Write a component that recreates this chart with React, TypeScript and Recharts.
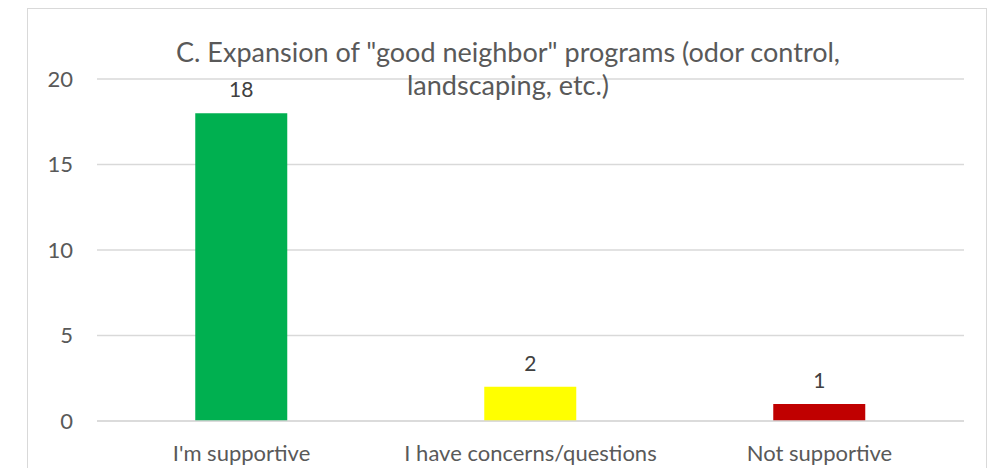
import { BarChart, Bar, XAxis, YAxis, CartesianGrid, LabelList, Cell } from "recharts"

const categories = ["I'm supportive", "I have concerns/questions", "Not supportive"]
const counts = [18, 2, 1]
const barColors = ["#00B050", "#FFFF00", "#C00000"]
const yTicks = [0, 5, 10, 15, 20]

const titleLines = ["C. Expansion of \"good neighbor\" programs (odor control,", "landscaping, etc.)"]

const data = categories.map((name, i) => ({ name, value: counts[i] }))

const FONT = "Lato, 'Open Sans', sans-serif"

export default function App() {
    return (
        <div style={{ position: "absolute", left: 0, top: 0, width: 1007, height: 468, overflow: "hidden", background: "#fff", fontFamily: FONT }}>
            <div
                style={{
                    position: "absolute",
                    left: 27,
                    top: 8,
                    width: 960,
                    height: 500,
                    border: "1.5px solid #d9d9d9",
                    boxSizing: "border-box",
                }}
            />
            <BarChart
                width={1007}
                height={468}
                data={data}
                margin={{ top: 79, right: 43, bottom: 17, left: 0 }}
                barCategoryGap="34%"
            >
                <CartesianGrid vertical={false} stroke="#d9d9d9" strokeWidth={1.3} />
                <XAxis
                    dataKey="name"
                    height={30}
                    axisLine={{ stroke: "#d9d9d9", strokeWidth: 1.3 }}
                    tickLine={false}
                    tickSize={0}
                    tickMargin={24}
                    tick={{ fill: "#595959", fontSize: 22, fontFamily: FONT }}
                    interval={0}
                />
                <YAxis
                    width={97}
                    domain={[0, 20]}
                    ticks={yTicks}
                    axisLine={false}
                    tickLine={false}
                    tickSize={0}
                    tickMargin={24}
                    tick={{ fill: "#595959", fontSize: 22, fontFamily: FONT }}
                />
                <Bar dataKey="value" isAnimationActive={false}>
                    {data.map((d, i) => (
                        <Cell key={d.name} fill={barColors[i]} />
                    ))}
                    <LabelList dataKey="value" position="top" offset={16} fill="#404040" fontSize={21} fontFamily={FONT} />
                </Bar>
            </BarChart>
            <div
                style={{
                    position: "absolute",
                    left: 27,
                    top: 35,
                    width: 962,
                    textAlign: "center",
                    color: "#595959",
                    fontSize: 27,
                    lineHeight: "33px",
                    pointerEvents: "none",
                }}
            >
                {titleLines.map((l) => (
                    <div key={l}>{l}</div>
                ))}
            </div>
        </div>
    )
}
